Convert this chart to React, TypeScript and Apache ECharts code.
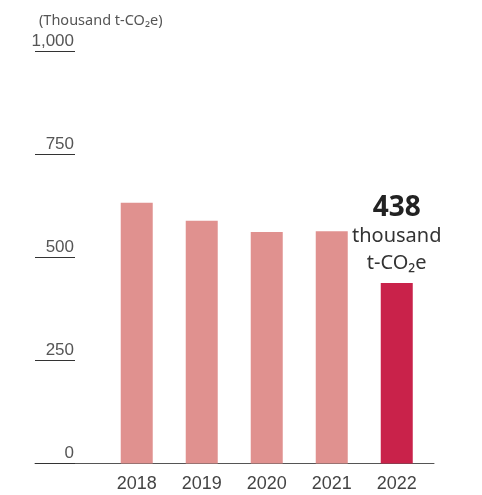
import React, { useEffect, useRef } from "react";
import * as echarts from "echarts";

const years = [2018, 2019, 2020, 2021, 2022];
const values = [633, 589, 562, 564, 438];
const yTicks = [0, 250, 500, 750, 1000];
const unitLabel = "(Thousand t-CO₂e)";
const highlightLines = ["438", "thousand", "t-CO₂e"];

export default function App() {
  const ref = useRef<HTMLDivElement>(null);
  useEffect(() => {
    if (!ref.current) return;
    const chart = echarts.init(ref.current, null, { renderer: "svg" });
    const last = years.length - 1;
    chart.setOption({
      animation: false,
      title: {
        text: unitLabel,
        left: 34,
        top: 6,
        textStyle: { fontSize: 14.5, fontWeight: "normal", color: "#555", fontFamily: "Noto Sans" },
      },
      grid: { left: 35, right: 48, top: 51.5, bottom: 31.5 },
      xAxis: {
        type: "value",
        min: 2016.435,
        max: 2022.573,
        axisLine: { show: true, lineStyle: { color: "#555", width: 1 } },
        axisTick: { show: false },
        splitLine: { show: false },
        axisLabel: {
          customValues: years,
          formatter: (v: number) => String(v),
          fontSize: 18,
          color: "#444",
          margin: 10,
          fontFamily: "Liberation Sans",
        },
      },
      yAxis: {
        type: "value",
        min: yTicks[0],
        max: yTicks[yTicks.length - 1],
        interval: 250,
        axisLine: { show: false },
        axisTick: { show: true, inside: true, length: 40, lineStyle: { color: "#333", width: 1 } },
        splitLine: { show: false },
        axisLabel: {
          inside: true,
          align: "right",
          verticalAlign: "bottom",
          margin: 39,
          padding: [0, 0, 3, 0],
          fontSize: 17,
          color: "#555",
          fontFamily: "Liberation Sans",
        },
      },
      series: [
        {
          type: "bar",
          barWidth: 32,
          data: years.map((y, i) => ({
            value: [y, values[i]],
            itemStyle: { color: i === last ? "#C9224A" : "#E0918F" },
            label:
              i === last
                ? {
                    show: true,
                    position: "top",
                    distance: 8,
                    formatter: `{a|${highlightLines[0]}}\n{b|${highlightLines[1]}}\n{b|${highlightLines[2]}}`,
                    rich: {
                      a: { fontSize: 28, fontWeight: "bold", color: "#222", fontFamily: "Noto Sans", lineHeight: 32, align: "center" },
                      b: { fontSize: 20, color: "#333", fontFamily: "Noto Sans", lineHeight: 27, align: "center" },
                    },
                  }
                : { show: false },
          })),
        },
      ],
    });
    return () => chart.dispose();
  }, []);
  return <div ref={ref} style={{ position: "fixed", left: 0, top: 0, width: 482, height: 495 }} />;
}
